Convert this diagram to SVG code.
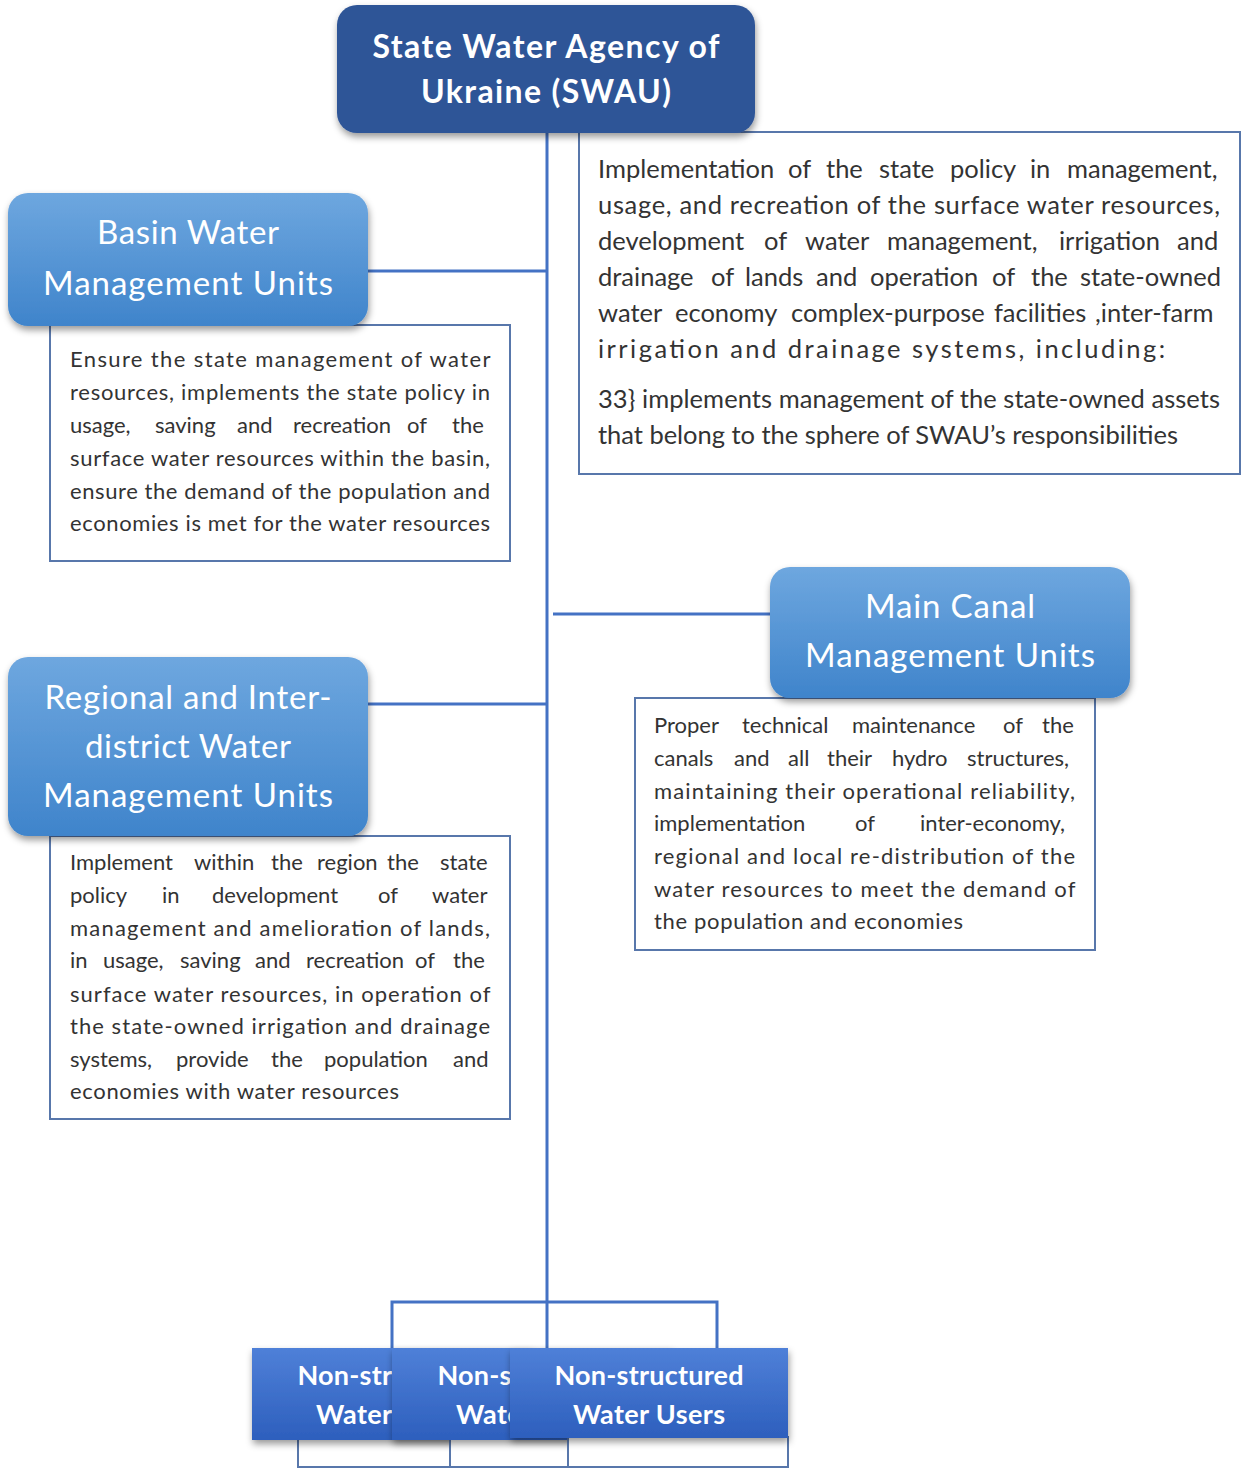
<svg xmlns="http://www.w3.org/2000/svg" width="1242" height="1469" viewBox="0 0 1242 1469">
<defs>
<linearGradient id="gMid" x1="0" y1="0" x2="0" y2="1">
<stop offset="0" stop-color="#6ea7df"/>
<stop offset="1" stop-color="#3f84cb"/>
</linearGradient>
<linearGradient id="gBot" x1="0" y1="0" x2="0" y2="1">
<stop offset="0" stop-color="#4f80d8"/>
<stop offset="1" stop-color="#2d5fbd"/>
</linearGradient>
<filter id="sh" x="-10%" y="-10%" width="125%" height="135%">
<feDropShadow dx="1" dy="4" stdDeviation="3.5" flood-color="#000" flood-opacity="0.4"/>
</filter>
</defs>
<style>
.lbl{font-family:Lato,"Noto Sans","Liberation Sans",sans-serif;fill:#fff;text-anchor:middle}
.mid{font-size:33px}
.top{font-size:32px;font-weight:bold}
.bot{font-size:27px;font-weight:bold}
.desc{font-family:Lato,"Noto Sans","Liberation Sans",sans-serif;fill:#333;font-size:22px}
.big{font-size:25.5px}
.dbox{fill:#fff;stroke:#5877ab;stroke-width:2}
.con{fill:none;stroke:#4472c4;stroke-width:3}
</style>
<rect width="1242" height="1469" fill="#fff"/>

<g id="connectors">
<line class="con" x1="547" y1="130" x2="547" y2="1350"/>
<line class="con" x1="366" y1="271" x2="547" y2="271"/>
<line class="con" x1="366" y1="704" x2="547" y2="704"/>
<line class="con" x1="553" y1="614" x2="772" y2="614"/>
<polyline class="con" points="392,1350 392,1302 717,1302 717,1350"/>
</g>

<g id="swau-desc">
<rect class="dbox" x="579" y="132" width="661" height="342"/>
<text class="desc big" lengthAdjust="spacing">
<tspan x="598" y="178">Implementation</tspan><tspan x="788" y="178">of</tspan><tspan x="826" y="178">the</tspan><tspan x="879" y="178">state</tspan><tspan x="950" y="178">policy</tspan><tspan x="1030" y="178">in</tspan><tspan x="1067" y="178">management,</tspan>
<tspan x="598" y="214" textLength="622">usage, and recreation of the surface water resources,</tspan>
<tspan x="598" y="250">development</tspan><tspan x="764" y="250">of</tspan><tspan x="805" y="250">water</tspan><tspan x="887" y="250">management,</tspan><tspan x="1059" y="250">irrigation</tspan><tspan x="1177" y="250">and</tspan>
<tspan x="598" y="286">drainage</tspan><tspan x="711" y="286">of</tspan><tspan x="745" y="286">lands</tspan><tspan x="816" y="286">and</tspan><tspan x="870" y="286">operation</tspan><tspan x="992" y="286">of</tspan><tspan x="1031" y="286">the</tspan><tspan x="1080" y="286">state-owned</tspan>
<tspan x="598" y="322">water</tspan><tspan x="675" y="322">economy</tspan><tspan x="791" y="322">complex-purpose</tspan><tspan x="994" y="322">facilities</tspan><tspan x="1095" y="322">,inter-farm</tspan>
<tspan x="598" y="358" textLength="567">irrigation and drainage systems, including:</tspan>
<tspan x="598" y="408" textLength="622">33} implements management of the state-owned assets</tspan>
<tspan x="598" y="444" textLength="580">that belong to the sphere of SWAU’s responsibilities</tspan>
</text>
</g>

<g id="swau">
<rect x="337" y="5" width="418" height="128" rx="20" fill="#2f5597" filter="url(#sh)"/>
<text class="lbl top"><tspan x="546" y="58" textLength="347" lengthAdjust="spacing">State Water Agency of</tspan><tspan x="546" y="103" textLength="250" lengthAdjust="spacing">Ukraine (SWAU)</tspan></text>
</g>

<g id="basin-desc">
<rect class="dbox" x="50" y="325" width="460" height="236"/>
<text class="desc" lengthAdjust="spacing">
<tspan x="70" y="367" textLength="420">Ensure the state management of water</tspan>
<tspan x="70" y="400" textLength="420">resources, implements the state policy in</tspan>
<tspan x="70" y="433">usage,</tspan><tspan x="155" y="433">saving</tspan><tspan x="237" y="433">and</tspan><tspan x="293" y="433">recreation</tspan><tspan x="407" y="433">of</tspan><tspan x="452" y="433">the</tspan>
<tspan x="70" y="466" textLength="420">surface water resources within the basin,</tspan>
<tspan x="70" y="499" textLength="420">ensure the demand of the population and</tspan>
<tspan x="70" y="531" textLength="420">economies is met for the water resources</tspan>
</text>
</g>

<g id="basin">
<rect x="8" y="193" width="360" height="133" rx="20" fill="url(#gMid)" filter="url(#sh)"/>
<text class="lbl mid"><tspan x="188" y="244" textLength="182" lengthAdjust="spacing">Basin Water</tspan><tspan x="188" y="295" textLength="290" lengthAdjust="spacing">Management Units</tspan></text>
</g>

<g id="canal-desc">
<rect class="dbox" x="635" y="698" width="460" height="252"/>
<text class="desc" lengthAdjust="spacing">
<tspan x="654" y="733">Proper</tspan><tspan x="742" y="733">technical</tspan><tspan x="852" y="733">maintenance</tspan><tspan x="1003" y="733">of</tspan><tspan x="1042" y="733">the</tspan>
<tspan x="654" y="766">canals</tspan><tspan x="734" y="766">and</tspan><tspan x="788" y="766">all</tspan><tspan x="827" y="766">their</tspan><tspan x="892" y="766">hydro</tspan><tspan x="967" y="766">structures,</tspan>
<tspan x="654" y="799" textLength="421">maintaining their operational reliability,</tspan>
<tspan x="654" y="831">implementation</tspan><tspan x="855" y="831">of</tspan><tspan x="920" y="831">inter-economy,</tspan>
<tspan x="654" y="864" textLength="421">regional and local re-distribution of the</tspan>
<tspan x="654" y="897" textLength="421">water resources to meet the demand of</tspan>
<tspan x="654" y="929" textLength="309">the population and economies</tspan>
</text>
</g>

<g id="canal">
<rect x="770" y="567" width="360" height="131" rx="20" fill="url(#gMid)" filter="url(#sh)"/>
<text class="lbl mid"><tspan x="950" y="618" textLength="170" lengthAdjust="spacing">Main Canal</tspan><tspan x="950" y="667" textLength="290" lengthAdjust="spacing">Management Units</tspan></text>
</g>

<g id="regional-desc">
<rect class="dbox" x="50" y="836" width="460" height="283"/>
<text class="desc" lengthAdjust="spacing">
<tspan x="70" y="870">Implement</tspan><tspan x="194" y="870">within</tspan><tspan x="271" y="870">the</tspan><tspan x="317" y="870">region</tspan><tspan x="387" y="870">the</tspan><tspan x="440" y="870">state</tspan>
<tspan x="70" y="903">policy</tspan><tspan x="162" y="903">in</tspan><tspan x="212" y="903">development</tspan><tspan x="378" y="903">of</tspan><tspan x="432" y="903">water</tspan>
<tspan x="70" y="936" textLength="420">management and amelioration of lands,</tspan>
<tspan x="70" y="968">in</tspan><tspan x="103" y="968">usage,</tspan><tspan x="180" y="968">saving</tspan><tspan x="255" y="968">and</tspan><tspan x="306" y="968">recreation</tspan><tspan x="415" y="968">of</tspan><tspan x="453" y="968">the</tspan>
<tspan x="70" y="1002" textLength="420">surface water resources, in operation of</tspan>
<tspan x="70" y="1034" textLength="420">the state-owned irrigation and drainage</tspan>
<tspan x="70" y="1067">systems,</tspan><tspan x="176" y="1067">provide</tspan><tspan x="271" y="1067">the</tspan><tspan x="324" y="1067">population</tspan><tspan x="453" y="1067">and</tspan>
<tspan x="70" y="1099" textLength="329">economies with water resources</tspan>
</text>
</g>

<g id="regional">
<rect x="8" y="657" width="360" height="179" rx="20" fill="url(#gMid)" filter="url(#sh)"/>
<text class="lbl mid"><tspan x="188" y="709" textLength="287" lengthAdjust="spacing">Regional and Inter-</tspan><tspan x="188" y="758" textLength="206" lengthAdjust="spacing">district Water</tspan><tspan x="188" y="807" textLength="290" lengthAdjust="spacing">Management Units</tspan></text>
</g>

<g id="users1">
<rect class="dbox" x="298" y="1437" width="220" height="30"/>
<rect x="252" y="1348" width="280" height="92" fill="url(#gBot)" filter="url(#sh)"/>
<text class="lbl bot"><tspan x="392" y="1385" textLength="189" lengthAdjust="spacing">Non-structured</tspan><tspan x="392" y="1424" textLength="152" lengthAdjust="spacing">Water Users</tspan></text>
</g>

<g id="users2">
<rect class="dbox" x="450" y="1437" width="220" height="30"/>
<rect x="392" y="1348" width="280" height="92" fill="url(#gBot)" filter="url(#sh)"/>
<text class="lbl bot"><tspan x="532" y="1385" textLength="189" lengthAdjust="spacing">Non-structured</tspan><tspan x="532" y="1424" textLength="152" lengthAdjust="spacing">Water Users</tspan></text>
</g>

<g id="users3">
<rect class="dbox" x="568" y="1437" width="220" height="30"/>
<rect x="510" y="1348" width="278" height="90" fill="url(#gBot)" filter="url(#sh)"/>
<text class="lbl bot"><tspan x="649" y="1385" textLength="189" lengthAdjust="spacing">Non-structured</tspan><tspan x="649" y="1424" textLength="152" lengthAdjust="spacing">Water Users</tspan></text>
</g>
</svg>
